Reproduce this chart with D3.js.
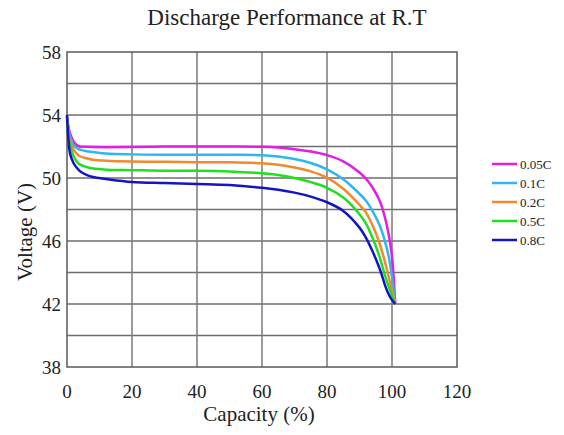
<!DOCTYPE html>
<meta charset="utf-8">
<style>
body { margin: 0; background: #fff; }
svg text { font-family: "Liberation Serif", "DejaVu Serif", serif; fill: #222; }
</style>
<body>
<script src="https://cdn.jsdelivr.net/npm/d3@7"></script>
<script>
// capacity (%) shared by every curve
var capacity = [0, 0.5, 1, 2, 3, 4, 6, 8, 12, 20, 30, 40, 50, 60, 65, 70, 75, 80, 85, 90, 92, 94, 96, 97, 98, 99, 100, 101];

// voltage (V) per discharge rate
var v005 = [53.9, 53.2, 52.8, 52.33, 52.1, 52.0, 51.98, 51.97, 51.96, 51.97, 52.0, 52.0, 52.0, 51.98, 51.93, 51.83, 51.68, 51.45, 51.05, 50.35, 49.95, 49.4, 48.65, 48.1, 47.35, 46.4, 45.0, 42.0];
var v01  = [53.9, 53.0, 52.6, 52.1, 51.9, 51.8, 51.7, 51.65, 51.55, 51.5, 51.48, 51.48, 51.47, 51.45, 51.36, 51.2, 50.95, 50.55, 49.92, 49.0, 48.55, 47.9, 47.1, 46.55, 45.85, 45.0, 43.7, 42.0];
var v02  = [53.8, 52.8, 52.3, 51.8, 51.55, 51.38, 51.25, 51.16, 51.1, 51.05, 51.03, 51.0, 51.0, 50.93, 50.84, 50.67, 50.42, 50.02, 49.32, 48.3, 47.8, 47.0, 45.95, 45.3, 44.55, 43.7, 42.85, 42.0];
var v05  = [53.7, 52.5, 52.0, 51.4, 51.05, 50.85, 50.7, 50.6, 50.53, 50.5, 50.46, 50.46, 50.42, 50.3, 50.19, 50.0, 49.74, 49.38, 48.76, 47.7, 47.1, 46.2, 45.1, 44.4, 43.7, 43.1, 42.5, 42.0];
var v08  = [54.0, 52.3, 51.5, 50.95, 50.65, 50.43, 50.2, 50.06, 49.94, 49.75, 49.68, 49.62, 49.55, 49.38, 49.25, 49.07, 48.82, 48.46, 47.91, 46.85, 46.2, 45.35, 44.35, 43.75, 43.1, 42.6, 42.25, 42.0];

var rates = ["0.05C", "0.1C", "0.2C", "0.5C", "0.8C"];
var colors = ["#e21ee2", "#2eb6ee", "#f08a2c", "#1ee01e", "#1414c2"];
var voltages = [v005, v01, v02, v05, v08];

var xTicks = [0, 20, 40, 60, 80, 100, 120];
var yTicks = [38, 42, 46, 50, 54, 58];

var width = 564, height = 435;
var margin = {top: 52, right: 107, bottom: 68, left: 67};

var x = d3.scaleLinear().domain([0, 120]).range([margin.left, width - margin.right]);
var y = d3.scaleLinear().domain([38, 58]).range([height - margin.bottom, margin.top]);

var svg = d3.select("body").append("svg")
    .attr("width", width)
    .attr("height", height)
    .attr("font-family", "Liberation Serif, serif");

// grid
svg.append("g").selectAll("line")
    .data(d3.range(40, 58, 2))
  .enter().append("line")
    .attr("x1", x(0)).attr("x2", x(120))
    .attr("y1", function(d) { return y(d); })
    .attr("y2", function(d) { return y(d); })
    .attr("stroke", "#6e6e6e").attr("stroke-width", 1.5);

svg.append("g").selectAll("line")
    .data([20, 40, 60, 80, 100])
  .enter().append("line")
    .attr("y1", y(38)).attr("y2", y(58))
    .attr("x1", function(d) { return x(d); })
    .attr("x2", function(d) { return x(d); })
    .attr("stroke", "#7a7a7a").attr("stroke-width", 1.5);

svg.append("rect")
    .attr("x", x(0)).attr("y", y(58))
    .attr("width", x(120) - x(0)).attr("height", y(38) - y(58))
    .attr("fill", "none").attr("stroke", "#5a5a5a").attr("stroke-width", 1.5);

// tick labels
svg.append("g").selectAll("text")
    .data(xTicks)
  .enter().append("text")
    .attr("x", function(d) { return x(d); })
    .attr("y", 398)
    .attr("text-anchor", "middle")
    .style("font-size", "19px")
    .text(function(d) { return d; });

svg.append("g").selectAll("text")
    .data(yTicks)
  .enter().append("text")
    .attr("x", 61)
    .attr("y", function(d) { return y(d); })
    .attr("dy", "0.35em")
    .attr("text-anchor", "end")
    .style("font-size", "19px")
    .text(function(d) { return d; });

// curves
var line = d3.line()
    .x(function(d) { return x(d[0]); })
    .y(function(d) { return y(d[1]); })
    .curve(d3.curveCatmullRom.alpha(0.5));

voltages.forEach(function(vals, i) {
  svg.append("path")
      .datum(capacity.map(function(c, j) { return [c, vals[j]]; }))
      .attr("d", line)
      .attr("fill", "none")
      .attr("stroke", colors[i])
      .attr("stroke-width", 2.5);
});

// legend
var legend = svg.append("g").selectAll("g")
    .data(rates)
  .enter().append("g")
    .attr("transform", function(d, i) { return "translate(492," + (164 + i * 19) + ")"; });

legend.append("line")
    .attr("x1", 0).attr("x2", 25)
    .attr("stroke", function(d, i) { return colors[i]; })
    .attr("stroke-width", 2.5);

legend.append("text")
    .attr("x", 28).attr("dy", "0.35em")
    .style("font-size", "13px")
    .text(function(d) { return d; });

// titles
svg.append("text")
    .attr("x", 287).attr("y", 25)
    .attr("text-anchor", "middle")
    .style("font-size", "23px")
    .text("Discharge Performance at R.T");

svg.append("text")
    .attr("x", 259).attr("y", 421)
    .attr("text-anchor", "middle")
    .style("font-size", "21px")
    .text("Capacity (%)");

svg.append("text")
    .attr("transform", "translate(32,232) rotate(-90)")
    .attr("text-anchor", "middle")
    .style("font-size", "21px")
    .text("Voltage (V)");
</script>
</body>
